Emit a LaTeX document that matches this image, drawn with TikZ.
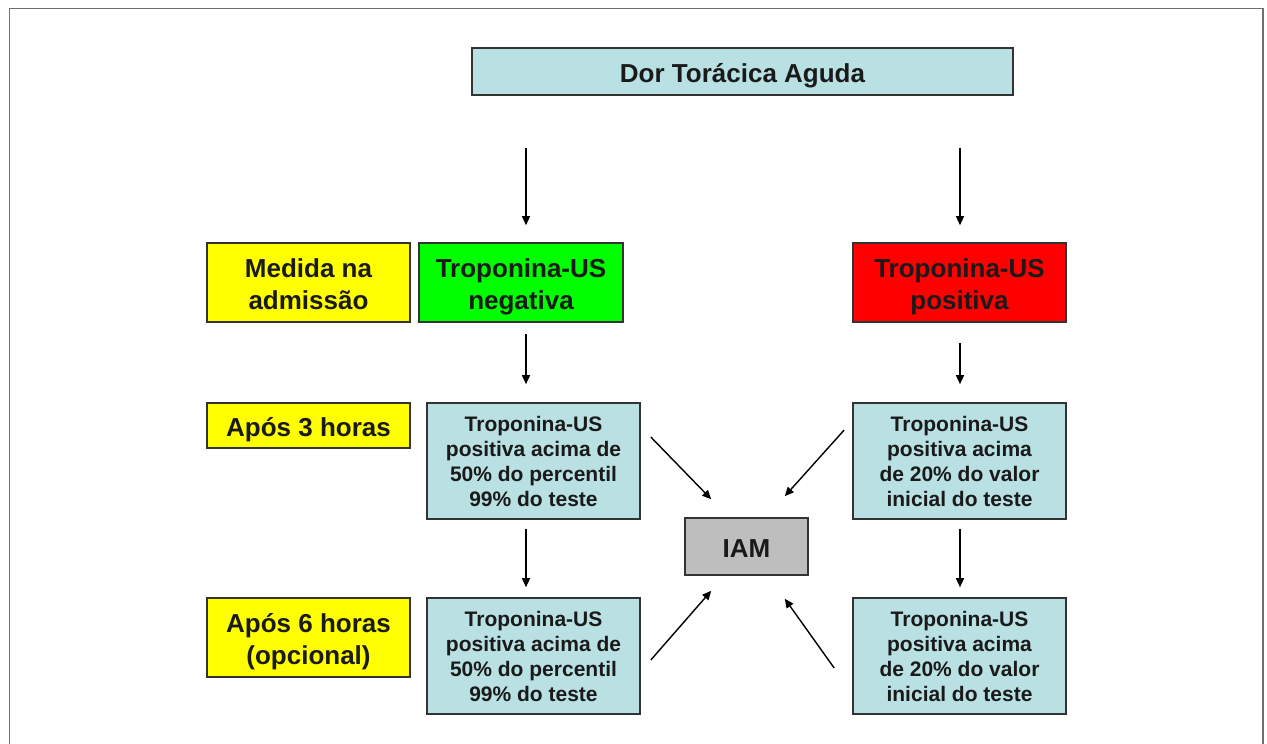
\documentclass[tikz,border=0pt]{standalone}
\usepackage{fontspec}
\setmainfont{Liberation Sans}
\usetikzlibrary{arrows.meta}
\definecolor{cyanbox}{HTML}{B9E0E3}
\definecolor{yelbox}{HTML}{FFFF00}
\definecolor{grnbox}{HTML}{00FF00}
\definecolor{redbox}{HTML}{FF0000}
\definecolor{graybox}{HTML}{BEBEBE}
\definecolor{txt}{HTML}{1A1A1A}
\definecolor{edge}{HTML}{333333}
\definecolor{frame}{HTML}{707070}
\newcommand\lowtext[1]{\raisebox{0pt}[\dimexpr\height+10pt\relax][\depth]{\begin{tabular}{@{}c@{}}#1\end{tabular}}}
\tikzset{
  box/.style={draw=edge, line width=1.6pt, rectangle, inner sep=0pt, align=center, text=txt},
  bigtxt/.style={box, font=\fontsize{26}{32}\selectfont\bfseries},
  smalltxt/.style={box, fill=cyanbox, minimum width=213pt, minimum height=116pt, font=\fontsize{21}{25}\selectfont\bfseries},
  arr/.style={-{Triangle[length=9pt,width=8pt]}, line width=1.4pt, black},
}
\begin{document}
\begin{tikzpicture}[x=1pt,y=-1pt]
\useasboundingbox (0,0) rectangle (1267,744);
\fill[white] (0,0) rectangle (1267,744);
\draw[frame, line width=1.3pt] (9.5,744) -- (9.5,8.5) -- (1263,8.5) -- (1263,744);

\node[bigtxt, fill=cyanbox, minimum width=541pt, minimum height=47pt] (top) at (742.5,71.5) {\lowtext{Dor Torácica Aguda}};
\node[bigtxt, fill=yelbox, minimum width=203pt, minimum height=79pt] (adm) at (308.5,282.5) {\lowtext{Medida na\\admissão}};
\node[bigtxt, fill=grnbox, minimum width=204pt, minimum height=79pt] (neg) at (521,282.5) {\lowtext{Troponina-US\\negativa}};
\node[bigtxt, fill=redbox, minimum width=213pt, minimum height=79pt] (pos) at (959.5,282.5) {\lowtext{Troponina-US\\positiva}};
\node[bigtxt, fill=yelbox, minimum width=203pt, minimum height=45pt] (h3) at (308.5,425.5) {\lowtext{Após 3 horas}};
\node[bigtxt, fill=yelbox, minimum width=203pt, minimum height=79pt] (h6) at (308.5,637.5) {\lowtext{Após 6 horas\\(opcional)}};
\node[smalltxt] (l1) at (533.5,461) {Troponina-US\\positiva acima de\\50\% do percentil\\99\% do teste};
\node[smalltxt] (l2) at (533.5,656) {Troponina-US\\positiva acima de\\50\% do percentil\\99\% do teste};
\node[smalltxt] (r1) at (959.5,461) {Troponina-US\\positiva acima\\de 20\% do valor\\inicial do teste};
\node[smalltxt] (r2) at (959.5,656) {Troponina-US\\positiva acima\\de 20\% do valor\\inicial do teste};
\node[bigtxt, fill=graybox, minimum width=123pt, minimum height=57pt] (iam) at (746.5,546.5) {\lowtext{IAM}};

\coordinate (cxl) at (526,0);
\coordinate (cxr) at (960,0);
\draw[arr, shorten <=52pt, shorten >=17pt] (top.south -| cxl) -- (neg.north -| cxl);
\draw[arr, shorten <=52pt, shorten >=17pt] (top.south -| cxr) -- (pos.north -| cxr);
\draw[arr, shorten <=11pt, shorten >=18pt] (neg.south -| cxl) -- (l1.north -| cxl);
\draw[arr, shorten <=20pt, shorten >=18pt] (pos.south -| cxr) -- (r1.north -| cxr);
\draw[arr, shorten <=9pt, shorten >=10pt] (l1.south -| cxl) -- (l2.north -| cxl);
\draw[arr, shorten <=9pt, shorten >=10pt] (r1.south -| cxr) -- (r2.north -| cxr);

\draw[arr] ([shift={(10,-24)}]l1.east) -- ([shift={(27,-18)}]iam.north west);
\draw[arr] ([shift={(-8,-31)}]r1.west) -- ([shift={(-24,-21)}]iam.north east);
\draw[arr] ([shift={(10,4)}]l2.east) -- ([shift={(27,15)}]iam.south west);
\draw[arr] ([shift={(-18,12)}]r2.west) -- ([shift={(-24,23)}]iam.south east);
\end{tikzpicture}
\end{document}
